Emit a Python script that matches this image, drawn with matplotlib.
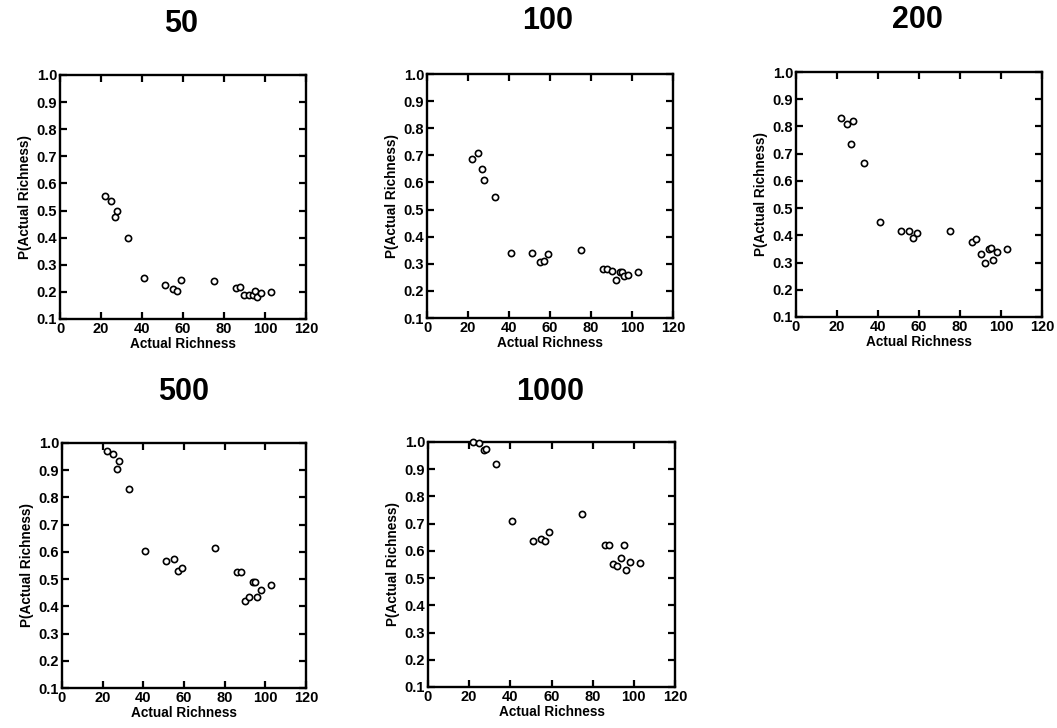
import matplotlib
matplotlib.use('Agg')
import matplotlib.pyplot as plt

plt.rcParams['font.family'] = ['Liberation Sans', 'DejaVu Sans']

# actual richness at each site (same sites in every panel)
richness = [22, 25, 27, 28, 33, 41, 51, 55, 57, 59, 75, 86, 88, 90, 92, 94, 95, 96, 98, 103]

p_50 = [0.555, 0.535, 0.475, 0.50, 0.40, 0.25, 0.225, 0.21, 0.205, 0.245,
        0.24, 0.215, 0.218, 0.19, 0.19, 0.19, 0.205, 0.18, 0.195, 0.20]
p_100 = [0.685, 0.71, 0.65, 0.61, 0.545, 0.34, 0.34, 0.305, 0.31, 0.335,
         0.35, 0.28, 0.28, 0.275, 0.24, 0.27, 0.27, 0.255, 0.26, 0.268]
p_200 = [0.83, 0.81, 0.735, 0.82, 0.665, 0.45, 0.415, 0.415, 0.39, 0.41,
         0.415, 0.375, 0.385, 0.33, 0.30, 0.35, 0.355, 0.31, 0.34, 0.35]
p_500 = [0.97, 0.96, 0.905, 0.935, 0.83, 0.605, 0.565, 0.575, 0.53, 0.54,
         0.615, 0.525, 0.525, 0.42, 0.435, 0.49, 0.49, 0.435, 0.46, 0.48]
p_1000 = [1.0, 0.995, 0.97, 0.975, 0.92, 0.71, 0.635, 0.645, 0.635, 0.67,
          0.735, 0.62, 0.62, 0.55, 0.545, 0.575, 0.62, 0.53, 0.56, 0.555]

titles = ['50', '100', '200', '500', '1000']
series = [p_50, p_100, p_200, p_500, p_1000]

W, H = 1057, 728
fig = plt.figure(figsize=(W / 100, H / 100), dpi=100)

# axes boxes in pixels: left, top, right, bottom
boxes = [(60, 75, 306, 319), (427, 74, 673, 318), (796, 72, 1042, 317),
         (62, 443, 306, 688), (428, 442, 675, 687)]
title_pos = [(181, 24), (548, 21), (917, 20), (184, 392), (550, 392)]

for (l, t, r, b), name, vals, (tx, ty) in zip(boxes, titles, series, title_pos):
    ax = fig.add_axes([l / W, 1 - b / H, (r - l) / W, (b - t) / H])
    ax.scatter(richness, vals, s=20, facecolors='white', edgecolors='black',
               linewidths=1.2, clip_on=False, zorder=3)
    ax.set_xlim(0, 120)
    ax.set_ylim(0.1, 1.0)
    ax.set_xticks([0, 20, 40, 60, 80, 100, 120])
    ax.set_yticks([0.1, 0.2, 0.3, 0.4, 0.5, 0.6, 0.7, 0.8, 0.9, 1.0])
    ax.set_yticklabels(['0.1', '0.2', '0.3', '0.4', '0.5', '0.6', '0.7', '0.8', '0.9', '1.0'])
    ax.tick_params(direction='in', top=True, right=True, length=5, width=1.6,
                   labelsize=10.5, pad=2)
    for lab in ax.get_xticklabels() + ax.get_yticklabels():
        lab.set_fontweight('bold')
    for sp in ax.spines.values():
        sp.set_linewidth(1.7)
    ax.set_xlabel('Actual Richness', fontsize=9.8, fontweight='bold', labelpad=1)
    ax.set_ylabel('P(Actual Richness)', fontsize=9.8, fontweight='bold', labelpad=3)
    fig.text(tx / W, 1 - ty / H, name, ha='center', va='center', fontsize=22,
             fontweight='bold')

plt.savefig('out.png', dpi=100)
